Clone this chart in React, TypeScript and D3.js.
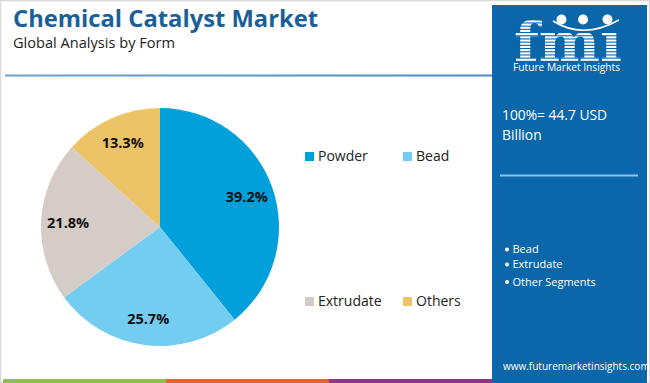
import React from "react";
import * as d3 from "d3";

const categories = ["Powder", "Bead", "Extrudate", "Others"];
const values = [39.2, 25.7, 21.8, 13.3];
const colors = ["#02a0da", "#72cdf1", "#d5ccc8", "#ecc467"];
const panelBullets = ["Bead", "Extrudate", "Other Segments"];
const bottomColors = ["#8dc04c", "#e0662e", "#8c3589"];

const W = 650;
const H = 383;

export default function App() {
  const cx = 160, cy = 227, r = 119;
  const pie = d3.pie<number>().sort(null).value((d) => d)(values);
  const arc = d3.arc<d3.PieArcDatum<number>>().innerRadius(0).outerRadius(r);
  const labelArc = d3.arc<d3.PieArcDatum<number>>().innerRadius(92).outerRadius(92);

  const legendPos = [
    [305, 152], [403, 152], [305, 297], [403, 297],
  ];

  const bx = d3.scaleBand<number>().domain([0, 1, 2]).range([3, 492]).padding(0);

  const stripes = d3.range(16, 62, 3.2);
  const bulletY = [253, 268, 285.5];

  return (
    <svg width={W} height={H} style={{ position: "absolute", left: 0, top: 0, background: "#fff" }}
      fontFamily="'Open Sans', sans-serif">
      <rect x={0.5} y={0.5} width={W - 1} height={H - 1} fill="#fff" stroke="#d9d9d9" strokeWidth={1.5} />
      <text x={13} y={26.5} fontSize={22.5} fontWeight={700} fill="#1a5f97" textLength={305} lengthAdjust="spacingAndGlyphs">
        Chemical Catalyst Market
      </text>
      <text x={13} y={47.5} fontSize={14} fill="#222" textLength={162} lengthAdjust="spacingAndGlyphs">
        Global Analysis by Form
      </text>
      <defs>
        <linearGradient id="sepg" x1="0" x2="1" y1="0" y2="0">
          <stop offset="0" stopColor="#6aa3cc" />
          <stop offset="1" stopColor="#4b8cbf" />
        </linearGradient>
      </defs>
      <rect x={5} y={74.5} width={488} height={2} fill="url(#sepg)" />

      <g transform={`translate(${cx},${cy})`}>
        {pie.map((p, i) => (
          <path key={i} d={arc(p) || ""} fill={colors[i]} />
        ))}
        {pie.map((p, i) => {
          const [lx, ly] = labelArc.centroid(p);
          return (
            <text key={"l" + i} x={lx} y={ly} textAnchor="middle" dominantBaseline="central"
              fontSize={14.5} fontWeight={700} fill="#111">
              {values[i].toFixed(1)}%
            </text>
          );
        })}
      </g>

      {categories.map((c, i) => (
        <g key={c}>
          <rect x={legendPos[i][0]} y={legendPos[i][1]} width={9} height={9} fill={colors[i]} />
          <text x={legendPos[i][0] + 13} y={legendPos[i][1] + 9} fontSize={14} fill="#222">{c}</text>
        </g>
      ))}

      {bottomColors.map((c, i) => (
        <rect key={c} x={bx(i)} y={379} width={bx.bandwidth()} height={4} fill={c} />
      ))}

      <rect x={492} y={5} width={155} height={378} fill="#0b67a9" />
      {/* logo */}
      <g>
        <text x={514} y={61} fontSize={54} fontWeight={700} fill="#fff"
          fontFamily="'DejaVu Serif', serif" textLength={108} lengthAdjust="spacingAndGlyphs">fmı</text>
        {stripes.map((s) => (
          <rect key={s} x={512} y={s} width={118} height={1.1} fill="#0b67a9" />
        ))}
        <circle cx={561.5} cy={19.5} r={5} fill="#fff" />
        <circle cx={583} cy={19.5} r={5} fill="#fff" />
        <circle cx={607.5} cy={19.5} r={5} fill="#fff" />
        <path d="M553,21 Q583,40 619,20" fill="none" stroke="#fff" strokeWidth={1.5} />
        <text x={513} y={71} fontSize={10.2} fill="#fff">Future Market Insights</text>
      </g>
      <text x={502} y={120} fontSize={13.8} fill="#fff">100%= 44.7 USD</text>
      <text x={502} y={140} fontSize={13.8} fill="#fff">Billion</text>
      <rect x={500} y={174.5} width={138} height={2} fill="#8cc3ec" />
      {panelBullets.map((b, i) => (
        <g key={b}>
          <circle cx={507} cy={bulletY[i] - 3.5} r={2} fill="#fff" />
          <text x={512.5} y={bulletY[i]} fontSize={11} fill="#fff">{b}</text>
        </g>
      ))}
      <text x={503} y={370} fontSize={10} fill="#fff">www.futuremarketinsights.com</text>
    </svg>
  );
}
